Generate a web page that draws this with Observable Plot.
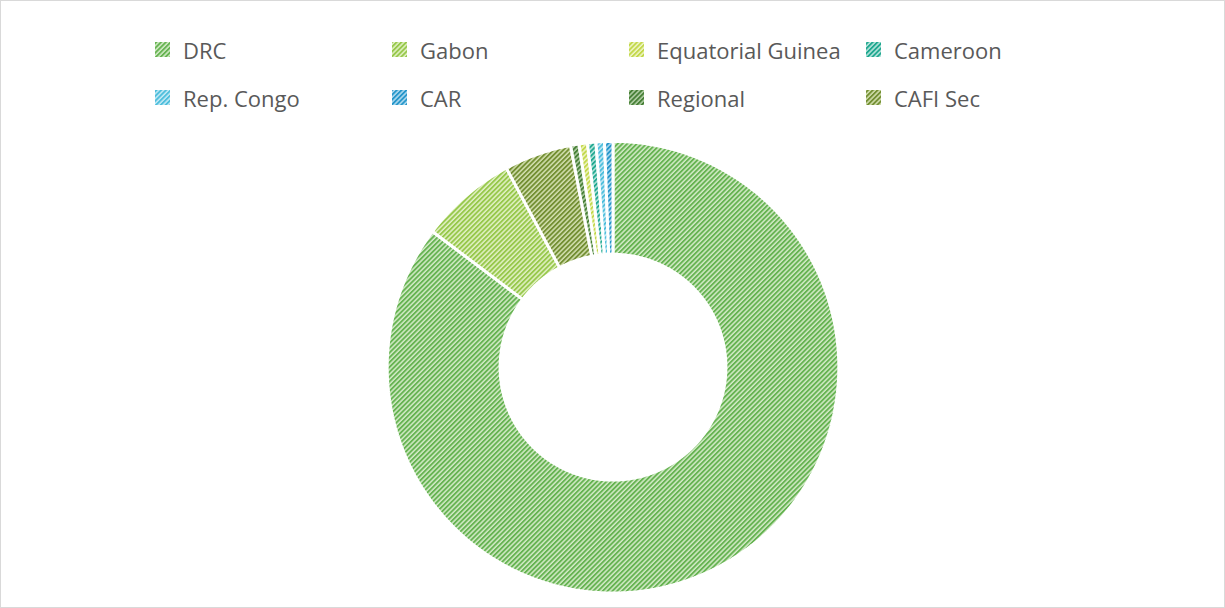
<!DOCTYPE html>
<html><head><meta charset="utf-8">
<script src="https://cdn.jsdelivr.net/npm/d3@7"></script>
<script src="https://cdn.jsdelivr.net/npm/@observablehq/plot@0.6"></script>
<style>
html,body{margin:0;padding:0;background:#fff;}
#frame{position:relative;width:1225px;height:608px;box-sizing:border-box;border:1px solid #d9d9d9;overflow:hidden;background:#fff;font-family:"Open Sans",sans-serif;}
#chart{position:absolute;left:-1px;top:-1px;}
#legend{position:absolute;left:-1px;top:-1px;}
</style></head><body>
<svg width="0" height="0" style="position:absolute"><defs id="defs"></defs></svg>
<div id="frame"><div id="chart"></div><svg id="legend" width="1225" height="130"></svg></div>
<script>
// ---- data ----
const categories = ["DRC", "Gabon", "Equatorial Guinea", "Cameroon", "Rep. Congo", "CAR", "Regional", "CAFI Sec"];
const shares = [85.0, 6.9, 0.6, 0.6, 0.6, 0.6, 0.6, 4.8]; // percent
const sliceOrder = ["DRC", "Gabon", "CAFI Sec", "Regional", "Equatorial Guinea", "Cameroon", "Rep. Congo", "CAR"];
const fgColors = ["#66b352", "#97c84b", "#c3d84a", "#1fa890", "#4dbedc", "#2596ca", "#467f36", "#738f33"];
const bgColors = ["#d3ebc7", "#e2f1c5", "#eff5c8", "#bce6de", "#c6eaf5", "#b3dcf0", "#b3cfa7", "#d4e0b1"];

// ---- patterns (wide upward diagonal) ----
const defs = d3.select("#defs");
categories.forEach((c, i) => {
  const p = defs.append("pattern").attr("id", "pat" + i)
    .attr("patternUnits", "userSpaceOnUse").attr("width", 3.4).attr("height", 3.4)
    .attr("patternTransform", "rotate(45)");
  p.append("rect").attr("width", 3.4).attr("height", 3.4).attr("fill", bgColors[i]);
  p.append("rect").attr("width", 1.9).attr("height", 3.4).attr("fill", fgColors[i]);
});

// ---- geometry from data ----
const W = 1225, H = 608, cx = 613, cy = 367, R = 226, hole = 0.5;
const total = d3.sum(shares);
const pts = [];
let acc = 0;
for (const name of sliceOrder) {
  const v = shares[categories.indexOf(name)];
  const a0 = acc / total * 2 * Math.PI;
  acc += v;
  const a1 = acc / total * 2 * Math.PI;
  const n = Math.max(2, Math.ceil((a1 - a0) / (Math.PI / 360)));
  const ring = [];
  for (let k = 0; k <= n; k++) { const a = a0 + (a1 - a0) * k / n; ring.push([R * Math.sin(a), R * Math.cos(a)]); }
  for (let k = n; k >= 0; k--) { const a = a0 + (a1 - a0) * k / n; ring.push([R * hole * Math.sin(a), R * hole * Math.cos(a)]); }
  ring.push(ring[0]);
  for (const [x, y] of ring) pts.push({name, x, y});
}

const chart = Plot.plot({
  width: W, height: H, margin: 0,
  x: {domain: [-cx, W - cx], axis: null},
  y: {domain: [-(H - cy), cy], axis: null},
  color: {type: "ordinal", domain: categories, range: categories.map((_, i) => `url(#pat${i})`)},
  marks: [
    Plot.line(pts, {x: "x", y: "y", z: "name", fill: "name", stroke: "white", strokeWidth: 3, strokeLinejoin: "miter"})
  ]
});
document.getElementById("chart").appendChild(chart);

// ---- legend ----
const lg = d3.select("#legend");
const colX = [155, 392, 629, 866];
const rowY = [59, 107];
categories.forEach((c, i) => {
  const col = i % 4, row = Math.floor(i / 4);
  lg.append("rect").attr("x", colX[col]).attr("y", rowY[row] - 17).attr("width", 15).attr("height", 15)
    .attr("fill", `url(#pat${i})`);
  lg.append("text").attr("x", colX[col] + 28).attr("y", rowY[row])
    .attr("font-family", "'Open Sans', sans-serif").attr("font-size", 22).attr("fill", "#595959").text(c);
});
</script>
</body></html>
